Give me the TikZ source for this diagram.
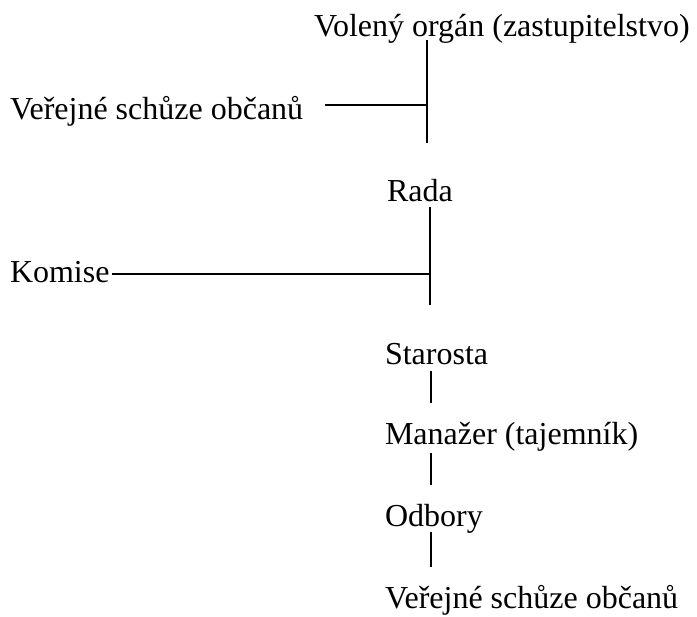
\documentclass[tikz,border=0pt]{standalone}
\usepackage{fontspec}
\setmainfont{Liberation Serif}
\begin{document}
\begin{tikzpicture}[x=1pt,y=-1pt,
  lbl/.style={anchor=base west,inner sep=0pt,outer sep=0pt,font=\fontsize{32}{38}\selectfont},
  conn/.style={line width=1.6pt}]
\useasboundingbox (0,0) rectangle (697,617);
\node[lbl] (vo) at (314,37) {Volený orgán (zastupitelstvo)};
\node[lbl] (vs1) at (10,120) {Veřejné schůze občanů};
\node[lbl] (rada) at (387,202) {Rada};
\node[lbl] (kom) at (10,283) {Komise};
\node[lbl] (star) at (385,365) {Starosta};
\node[lbl] (man) at (385,445) {Manažer (tajemník)};
\node[lbl] (odb) at (385,527) {Odbory};
\node[lbl] (vs2) at (385,609) {Veřejné schůze občanů};
% connector points
\coordinate (a1) at (427,40);
\coordinate (a2) at (427,143);
\coordinate (j1) at (427,105);
\coordinate (h1) at (325,105);
\coordinate (b1) at (430,207);
\coordinate (b2) at (430,305);
\coordinate (j2) at (430,274);
\coordinate (h2) at (112,274);
\coordinate (c1) at (431,371);
\coordinate (c2) at (431,403);
\coordinate (d1) at (431,453);
\coordinate (d2) at (431,485);
\coordinate (e1) at (431,532);
\coordinate (e2) at (431,567);
\draw[conn] (a1) -- (a2);
\draw[conn] (h1) -- (j1);
\draw[conn] (b1) -- (b2);
\draw[conn] (h2) -- (j2);
\draw[conn] (c1) -- (c2);
\draw[conn] (d1) -- (d2);
\draw[conn] (e1) -- (e2);
\end{tikzpicture}
\end{document}
